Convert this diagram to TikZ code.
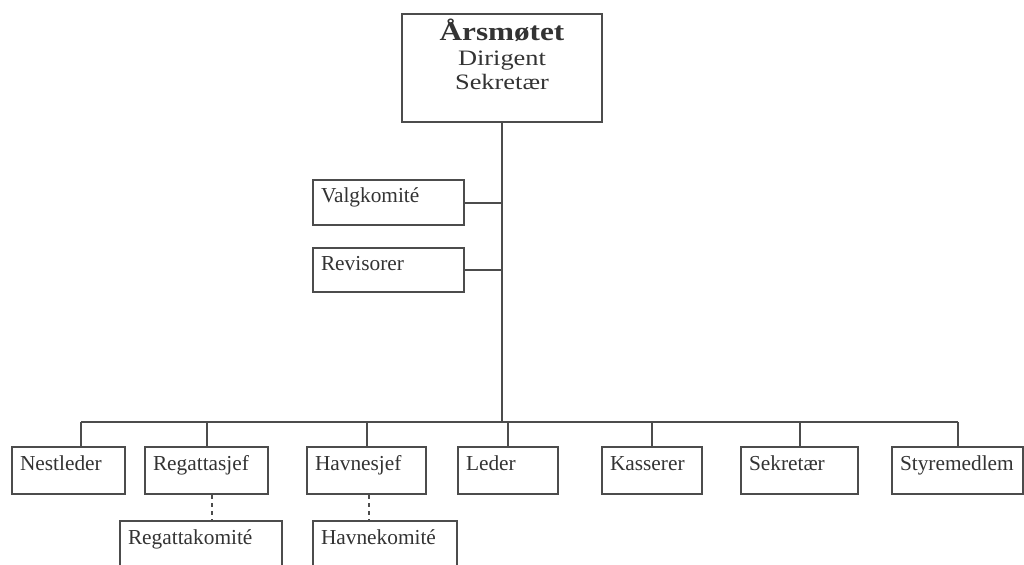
\documentclass[tikz,border=0pt]{standalone}
\usepackage{fontspec}
\setmainfont{Liberation Serif}

\begin{document}
\begin{tikzpicture}[x=0.75pt,y=-0.75pt,
    every node/.style={text=black!80},
    unit/.style={draw=black!70, line width=1.5pt, align=left, inner xsep=6pt, inner ysep=0pt,
                 minimum height=35.25pt, text height=8pt, text depth=8pt,
                 font=\fontsize{16}{18}\selectfont},
    link/.style={draw=black!70, line width=1.5pt},
    sublink/.style={link, dash pattern=on 3pt off 3pt}]
  \useasboundingbox (0,0) rectangle (1024,564);

  \node[draw=black!70, line width=1.5pt, minimum width=150pt, minimum height=81pt] (aar) at (502,68) {};
  \node[anchor=north, align=center, xscale=1.2, transform shape,
        font=\fontsize{16.5}{18.5}\selectfont] (aartxt) at ([yshift=-1pt]aar.north)
        {{\fontsize{19.5}{18.5}\selectfont\bfseries Årsmøtet}\\ Dirigent\\ Sekretær};

  \node[unit, text width=101.25pt, minimum height=33.75pt] (valg) at (388.5,202.5) {Valgkomité};
  \node[unit, text width=101.25pt, minimum height=33pt]    (rev)  at (388.5,270)   {Revisorer};

  \node[unit, text width=72.75pt] (nest) at (68.5,470.5)  {Nestleder};
  \node[unit, text width=80.25pt] (regs) at (206.5,470.5) {Regattasjef};
  \node[unit, text width=77.25pt] (havs) at (366.5,470.5) {Havnesjef};
  \node[unit, text width=63pt]    (led)  at (508,470.5)   {Leder};
  \node[unit, text width=63pt]    (kas)  at (652,470.5)   {Kasserer};
  \node[unit, text width=75.75pt] (sek)  at (799.5,470.5) {Sekretær};
  \node[unit, text width=86.25pt] (sty)  at (957.5,470.5) {Styremedlem};

  \node[unit, text width=109.5pt] (regk) at (201,544.5) {Regattakomité};
  \node[unit, text width=96pt]    (havk) at (385,544.5) {Havnekomité};

  \coordinate (bus) at (501,422);
  \coordinate (nesttop) at ([xshift=9.5pt]nest.north);

  \draw[link] (aar.south) -- (aar.south |- bus);
  \draw[link] (valg.east) -- (valg.east -| aar.south);
  \draw[link] (rev.east)  -- (rev.east -| aar.south);
  \draw[link] (bus -| nesttop) -- (bus -| sty.north);

  \draw[link] (bus -| nesttop)    -- (nesttop);
  \draw[link] (bus -| regs.north) -- (regs.north);
  \draw[link] (bus -| havs.north) -- (havs.north);
  \draw[link] (bus -| led.north)  -- (led.north);
  \draw[link] (bus -| kas.north)  -- (kas.north);
  \draw[link] (bus -| sek.north)  -- (sek.north);
  \draw[link] (bus -| sty.north)  -- (sty.north);

  \draw[sublink] ([xshift=4pt]regs.south) -- ([xshift=4pt]regk.north -| regs.south);
  \draw[sublink] ([xshift=2pt]havs.south) -- ([xshift=2pt]havk.north -| havs.south);
\end{tikzpicture}
\end{document}
